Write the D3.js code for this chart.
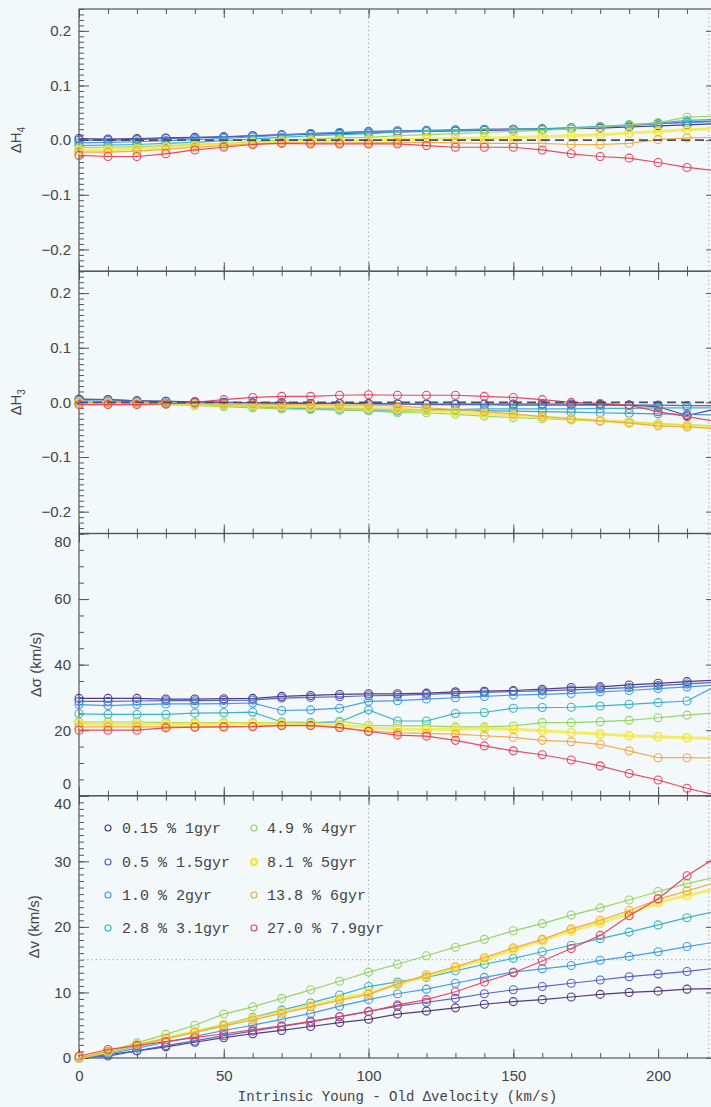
<!DOCTYPE html>
<html>
<head>
<meta charset="utf-8">
<script src="https://cdn.jsdelivr.net/npm/d3@7"></script>
<style>
  html, body { margin: 0; padding: 0; background: #f3f8fb; }
  svg { display: block; }
</style>
</head>
<body>
<svg id="chart" width="711" height="1107"></svg>
<script>
// Intrinsic young - old velocity separation (km/s) at which each model was run
const velocitySteps = [0, 10, 20, 30, 40, 50, 60, 70, 80, 90, 100, 110, 120, 130, 140, 150, 160, 170, 180, 190, 200, 210, 220];

// Young-population fraction and age of each model
const seriesNames = ["0.15 % 1gyr", "0.5 % 1.5gyr", "1.0 % 2gyr", "2.8 % 3.1gyr",
                     "4.9 % 4gyr", "8.1 % 5gyr", "13.8 % 6gyr", "27.0 % 7.9gyr"];
const seriesColors = ["#4b2f78", "#4f5cc0", "#3b98e0", "#35aec4",
                      "#93d35c", "#f1e83a", "#f3a63e", "#e6405c"];

// Recovered change in h4
const dH4 = [
  [0.003, 0.002, 0.003, 0.004, 0.005, 0.006, 0.008, 0.009, 0.011, 0.012, 0.013, 0.015, 0.016, 0.017, 0.018, 0.019, 0.019, 0.021, 0.022, 0.024, 0.026, 0.028, 0.030],
  [0.000, 0.000, 0.001, 0.003, 0.004, 0.006, 0.008, 0.010, 0.012, 0.014, 0.016, 0.017, 0.018, 0.019, 0.020, 0.020, 0.021, 0.022, 0.024, 0.027, 0.030, 0.033, 0.035],
  [-0.005, -0.004, -0.003, -0.001, 0.001, 0.003, 0.006, 0.009, 0.012, 0.014, 0.015, 0.016, 0.017, 0.018, 0.019, 0.020, 0.020, 0.022, 0.024, 0.027, 0.030, 0.032, 0.034],
  [-0.010, -0.009, -0.008, -0.006, -0.004, -0.001, 0.002, 0.005, 0.008, 0.010, 0.012, 0.015, 0.017, 0.018, 0.019, 0.020, 0.020, 0.023, 0.025, 0.028, 0.031, 0.036, 0.038],
  [-0.014, -0.013, -0.012, -0.010, -0.008, -0.006, -0.003, 0.000, 0.002, 0.004, 0.005, 0.008, 0.010, 0.012, 0.014, 0.016, 0.018, 0.021, 0.024, 0.028, 0.032, 0.042, 0.044],
  [-0.018, -0.018, -0.016, -0.013, -0.010, -0.007, -0.005, -0.003, -0.002, -0.001, 0.000, 0.001, 0.002, 0.003, 0.004, 0.005, 0.006, 0.008, 0.010, 0.013, 0.016, 0.019, 0.021],
  [-0.022, -0.022, -0.020, -0.017, -0.013, -0.010, -0.007, -0.005, -0.005, -0.005, -0.005, -0.004, -0.004, -0.005, -0.006, -0.006, -0.006, -0.008, -0.008, -0.006, 0.001, 0.004, 0.005],
  [-0.028, -0.030, -0.030, -0.025, -0.018, -0.013, -0.008, -0.006, -0.007, -0.007, -0.007, -0.007, -0.010, -0.013, -0.013, -0.013, -0.018, -0.025, -0.030, -0.033, -0.041, -0.050, -0.056]
];

// Recovered change in h3
const dH3 = [
  [0.006, 0.005, 0.003, 0.002, 0.001, 0.000, -0.001, -0.001, -0.002, -0.002, -0.002, -0.003, -0.003, -0.003, -0.003, -0.003, -0.003, -0.003, -0.004, -0.005, -0.008, -0.024, -0.012],
  [0.005, 0.005, 0.003, 0.002, 0.001, 0.000, -0.001, -0.001, -0.002, -0.002, -0.003, -0.003, -0.004, -0.004, -0.004, -0.005, -0.005, -0.005, -0.005, -0.005, -0.005, -0.006, -0.006],
  [0.003, 0.002, 0.001, -0.001, -0.002, -0.004, -0.006, -0.008, -0.010, -0.011, -0.012, -0.013, -0.013, -0.014, -0.015, -0.016, -0.017, -0.018, -0.019, -0.020, -0.021, -0.022, -0.023],
  [0.002, 0.001, 0.000, -0.002, -0.004, -0.006, -0.008, -0.010, -0.012, -0.014, -0.015, -0.016, -0.015, -0.013, -0.012, -0.012, -0.012, -0.012, -0.011, -0.011, -0.010, -0.010, -0.010],
  [0.001, 0.000, -0.002, -0.004, -0.006, -0.008, -0.010, -0.012, -0.013, -0.014, -0.015, -0.019, -0.019, -0.022, -0.025, -0.028, -0.030, -0.032, -0.034, -0.036, -0.039, -0.041, -0.043],
  [0.000, -0.001, -0.002, -0.003, -0.004, -0.005, -0.006, -0.007, -0.008, -0.009, -0.010, -0.012, -0.015, -0.018, -0.021, -0.024, -0.027, -0.030, -0.033, -0.036, -0.040, -0.043, -0.045],
  [0.000, -0.001, -0.001, -0.002, -0.002, -0.003, -0.003, -0.004, -0.004, -0.005, -0.005, -0.007, -0.010, -0.013, -0.017, -0.021, -0.026, -0.030, -0.034, -0.038, -0.043, -0.045, -0.048],
  [-0.004, -0.004, -0.004, -0.003, 0.000, 0.005, 0.009, 0.011, 0.011, 0.013, 0.014, 0.013, 0.013, 0.013, 0.011, 0.009, 0.005, 0.000, -0.002, -0.005, -0.017, -0.026, -0.035]
];

// Recovered change in velocity dispersion (km/s)
const dSigma = [
  [29.7, 29.7, 29.7, 29.5, 29.5, 29.6, 29.7, 30.3, 30.6, 30.9, 31.1, 31.1, 31.3, 31.7, 31.9, 32.1, 32.5, 33.0, 33.2, 33.8, 34.3, 34.8, 35.3],
  [28.8, 28.8, 28.9, 29.0, 29.0, 29.1, 29.2, 29.8, 30.0, 30.2, 30.5, 30.6, 30.9, 31.2, 31.5, 31.8, 32.0, 32.3, 32.6, 33.0, 33.6, 34.1, 34.6],
  [27.8, 27.5, 27.8, 28.0, 28.0, 28.1, 28.3, 26.0, 26.2, 26.7, 28.8, 29.0, 29.5, 29.9, 30.3, 30.7, 30.9, 31.2, 31.7, 32.1, 32.7, 33.2, 33.8],
  [25.0, 24.8, 24.8, 24.8, 25.2, 25.3, 25.5, 22.5, 22.3, 22.5, 26.2, 22.8, 22.8, 25.1, 25.4, 26.7, 26.9, 27.0, 27.4, 27.9, 28.4, 28.9, 33.5],
  [22.5, 22.5, 22.5, 22.3, 22.3, 22.3, 22.3, 22.3, 22.2, 22.8, 21.5, 21.3, 21.3, 21.0, 21.0, 21.3, 22.3, 22.3, 22.6, 23.0, 23.8, 24.6, 25.3],
  [22.0, 21.8, 21.8, 21.8, 21.9, 21.9, 22.0, 22.0, 21.8, 21.6, 20.8, 20.3, 20.2, 20.3, 20.5, 20.3, 19.8, 19.3, 18.8, 18.3, 18.0, 17.7, 17.5],
  [21.0, 21.0, 21.0, 21.0, 21.1, 21.1, 21.2, 21.5, 21.5, 20.8, 19.8, 19.2, 19.0, 18.8, 18.3, 17.8, 16.9, 16.5, 15.7, 13.7, 11.6, 11.6, 11.5],
  [20.0, 20.0, 20.0, 20.7, 20.9, 21.0, 21.1, 21.4, 21.4, 20.8, 19.6, 18.5, 18.2, 16.9, 15.2, 13.7, 12.5, 10.9, 9.1, 6.8, 4.8, 2.3, 0.2]
];

// Recovered young - old velocity separation (km/s)
const dV = [
  [0.0, 0.5, 1.1, 1.7, 2.4, 3.1, 3.7, 4.2, 4.8, 5.4, 5.9, 6.7, 7.15, 7.65, 8.2, 8.6, 8.9, 9.3, 9.7, 10.0, 10.2, 10.5, 10.6],
  [0.0, 0.3, 1.1, 1.9, 2.6, 3.4, 4.1, 4.8, 5.5, 6.3, 7.1, 7.9, 8.5, 9.1, 9.8, 10.4, 10.9, 11.4, 11.9, 12.4, 12.8, 13.2, 13.7],
  [0.0, 0.6, 1.5, 2.4, 3.3, 4.2, 5.0, 5.9, 6.8, 7.9, 8.9, 9.8, 10.5, 11.4, 12.3, 13.1, 13.6, 14.1, 14.9, 15.5, 16.2, 17.0, 17.7],
  [0.0, 0.8, 1.8, 2.9, 4.0, 5.1, 6.2, 7.3, 8.4, 9.6, 10.9, 11.6, 12.3, 13.3, 14.3, 15.2, 16.2, 17.2, 18.2, 19.2, 20.3, 21.4, 22.4],
  [0.0, 1.0, 2.3, 3.6, 5.0, 6.7, 7.8, 9.1, 10.4, 11.7, 13.1, 14.3, 15.6, 16.9, 18.1, 19.4, 20.5, 21.8, 22.9, 24.1, 25.4, 26.6, 27.6],
  [0.0, 1.0, 2.0, 3.0, 4.0, 5.0, 6.0, 7.0, 8.0, 9.0, 9.9, 11.2, 12.5, 13.8, 15.0, 16.5, 17.9, 19.4, 20.6, 22.0, 23.7, 24.8, 25.8],
  [0.0, 1.0, 2.0, 3.0, 3.9, 4.9, 5.8, 6.8, 7.8, 8.8, 9.7, 11.3, 12.7, 13.9, 15.3, 16.8, 18.1, 19.7, 21.0, 22.5, 24.2, 25.5, 26.8],
  [0.3, 1.3, 1.9, 2.5, 3.1, 3.7, 4.3, 4.9, 5.6, 6.3, 7.05, 8.1, 8.9, 10.1, 11.6, 13.0, 14.8, 16.7, 18.7, 21.7, 24.3, 27.8, 30.6]
];

// Axis ticks
const xMajorTicks = [0, 50, 100, 150, 200];
const hTicks = [-0.2, -0.1, 0.0, 0.1, 0.2];
const sigmaTicks = [0, 20, 40, 60, 80];
const vTicks = [0, 10, 20, 30, 40];

// Guide lines
const xGuides = [100, 217.5];
const vGuide = 15;

// ---------------------------------------------------------------- layout
const svg = d3.select("#chart");
const plotLeft = 79, plotRight = 716, plotTop = 9, plotBottom = 1058;
const panelH = (plotBottom - plotTop) / 4;
const axisColor = "#555";
const textColor = "#444";
const labelFont = "'Liberation Sans', Arial, sans-serif";
const monoFont = "'Liberation Mono', 'DejaVu Sans Mono', monospace";

svg.append("rect").attr("width", 711).attr("height", 1107).attr("fill", "#f3f8fb");

const x = d3.scaleLinear().domain([0, 220]).range([plotLeft, plotRight]);

const panels = [
  { data: dH4, domain: [-0.24, 0.24], ticks: hTicks, minorStep: 0.01, fmt: d3.format(".1f"), title: ["ΔH", "4"], titleX: 21, zero: true },
  { data: dH3, domain: [-0.24, 0.24], ticks: hTicks, minorStep: 0.01, fmt: d3.format(".1f"), title: ["ΔH", "3"], titleX: 21, zero: true },
  { data: dSigma, domain: [0, 80], ticks: sigmaTicks, minorStep: 5, fmt: d3.format("d"), title: ["Δσ (km/s)"], titleX: 41 },
  { data: dV, domain: [0, 40], ticks: vTicks, minorStep: 1, fmt: d3.format("d"), title: ["Δv (km/s)"], titleX: 39, hGuide: vGuide }
];

const minorX = d3.range(0, 221, 10);

panels.forEach((p, i) => {
  const y0 = plotTop + i * panelH, y1 = y0 + panelH;
  const y = d3.scaleLinear().domain(p.domain).range([y1, y0]);
  const g = svg.append("g");
  const n = Math.round((p.domain[1] - p.domain[0]) / p.minorStep);
  const minorY = d3.range(0, n + 1).map(k => +(p.domain[0] + k * p.minorStep).toFixed(4));

  // minor ticks
  g.append("g").attr("transform", `translate(${plotLeft},0)`)
    .call(d3.axisLeft(y).tickValues(minorY).tickSizeInner(-5).tickSizeOuter(0).tickFormat(""));
  g.append("g").attr("transform", `translate(${plotRight},0)`)
    .call(d3.axisRight(y).tickValues(minorY).tickSizeInner(-5).tickSizeOuter(0).tickFormat(""));
  g.append("g").attr("transform", `translate(0,${y0})`)
    .call(d3.axisTop(x).tickValues(minorX).tickSizeInner(-5).tickSizeOuter(0).tickFormat(""));
  g.append("g").attr("transform", `translate(0,${y1})`)
    .call(d3.axisBottom(x).tickValues(minorX).tickSizeInner(-5).tickSizeOuter(0).tickFormat(""));

  // major ticks and labels
  const yLabels = g.append("g").attr("transform", `translate(${plotLeft},0)`)
    .call(d3.axisLeft(y).tickValues(p.ticks).tickSizeInner(-10).tickSizeOuter(0).tickPadding(8).tickFormat(p.fmt));
  // labels sitting on a panel edge are nudged inside so neighbouring panels stay legible
  yLabels.selectAll(".tick text")
    .attr("dy", d => d === p.domain[1] ? "12.5px" : (d === p.domain[0] && i < 3 ? "-7px" : "0.32em"));
  g.append("g").attr("transform", `translate(${plotRight},0)`)
    .call(d3.axisRight(y).tickValues(p.ticks).tickSizeInner(-10).tickSizeOuter(0).tickFormat(""));
  g.append("g").attr("transform", `translate(0,${y0})`)
    .call(d3.axisTop(x).tickValues(xMajorTicks).tickSizeInner(-9).tickSizeOuter(0).tickFormat(""));
  g.append("g").attr("transform", `translate(0,${y1})`)
    .call(d3.axisBottom(x).tickValues(xMajorTicks).tickSizeInner(-9).tickSizeOuter(0).tickPadding(12)
      .tickFormat(i === 3 ? d3.format("d") : ""));

  g.selectAll(".domain").remove();
  g.selectAll(".tick line").attr("stroke", axisColor).attr("stroke-width", 1);
  g.selectAll(".tick text").attr("fill", textColor).attr("font-family", labelFont).attr("font-size", 15);

  // frame
  g.append("rect").attr("x", plotLeft).attr("y", y0).attr("width", plotRight - plotLeft).attr("height", y1 - y0)
    .attr("fill", "none").attr("stroke", axisColor).attr("stroke-width", 1.2);

  // guide lines
  xGuides.forEach(v => {
    g.append("line").attr("x1", x(v)).attr("x2", x(v)).attr("y1", y0).attr("y2", y1)
      .attr("stroke", "#9aa0a8").attr("stroke-width", 1).attr("stroke-dasharray", "1.2,3");
  });
  if (p.hGuide !== undefined) {
    g.append("line").attr("x1", plotLeft).attr("x2", plotRight).attr("y1", y(p.hGuide)).attr("y2", y(p.hGuide))
      .attr("stroke", "#9aa0a8").attr("stroke-width", 1).attr("stroke-dasharray", "1.2,3");
  }

  // y title
  const tx = p.titleX, ty = (y0 + y1) / 2;
  const t = svg.append("text").attr("transform", `translate(${tx},${ty}) rotate(-90)`)
    .attr("text-anchor", "middle").attr("fill", textColor)
    .attr("font-family", labelFont).attr("font-size", 15);
  t.append("tspan").text(p.title[0]);
  if (p.title[1]) t.append("tspan").attr("dy", 4).attr("font-size", 10).text(p.title[1]);

  // series
  const line = d3.line().x((d, k) => x(velocitySteps[k])).y(d => y(d));
  p.data.forEach((vals, s) => {
    const isYellow = s === 5;
    g.append("path").datum(vals).attr("d", line)
      .attr("fill", "none").attr("stroke", seriesColors[s])
      .attr("stroke-width", isYellow ? 3 : 1.2).attr("stroke-opacity", isYellow ? 0.75 : 0.95);
    g.selectAll(null).data(vals).enter().append("circle")
      .attr("cx", (d, k) => x(velocitySteps[k])).attr("cy", d => y(d)).attr("r", 4)
      .attr("fill", "none").attr("stroke", seriesColors[s])
      .attr("stroke-width", isYellow ? 2.2 : 1.1).attr("stroke-opacity", isYellow ? 0.8 : 0.95);
  });

  // zero reference
  if (p.zero) {
    g.append("line").attr("x1", plotLeft).attr("x2", plotRight).attr("y1", y(0)).attr("y2", y(0))
      .attr("stroke", "#4a4f66").attr("stroke-width", 1.6).attr("stroke-dasharray", "9,5");
  }
});

// legend
const legendRows = [828, 862, 895, 928];
seriesNames.forEach((name, s) => {
  const col = Math.floor(s / 4), row = s % 4;
  const mx = col === 0 ? 108 : 254;
  const lx = col === 0 ? 122 : 267;
  const cy = legendRows[row];
  svg.append("circle").attr("cx", mx).attr("cy", cy).attr("r", 3)
    .attr("fill", "none").attr("stroke", seriesColors[s]).attr("stroke-width", s === 5 ? 2.5 : 1.1);
  svg.append("text").attr("x", lx).attr("y", cy + 5).text(name)
    .attr("fill", textColor).attr("font-family", monoFont).attr("font-size", 15);
});

// x title
svg.append("text").attr("x", (plotLeft + plotRight) / 2).attr("y", 1101)
  .attr("text-anchor", "middle").attr("fill", textColor)
  .attr("font-family", monoFont).attr("font-size", 14)
  .text("Intrinsic Young - Old Δvelocity (km/s)");
</script>
</body>
</html>
